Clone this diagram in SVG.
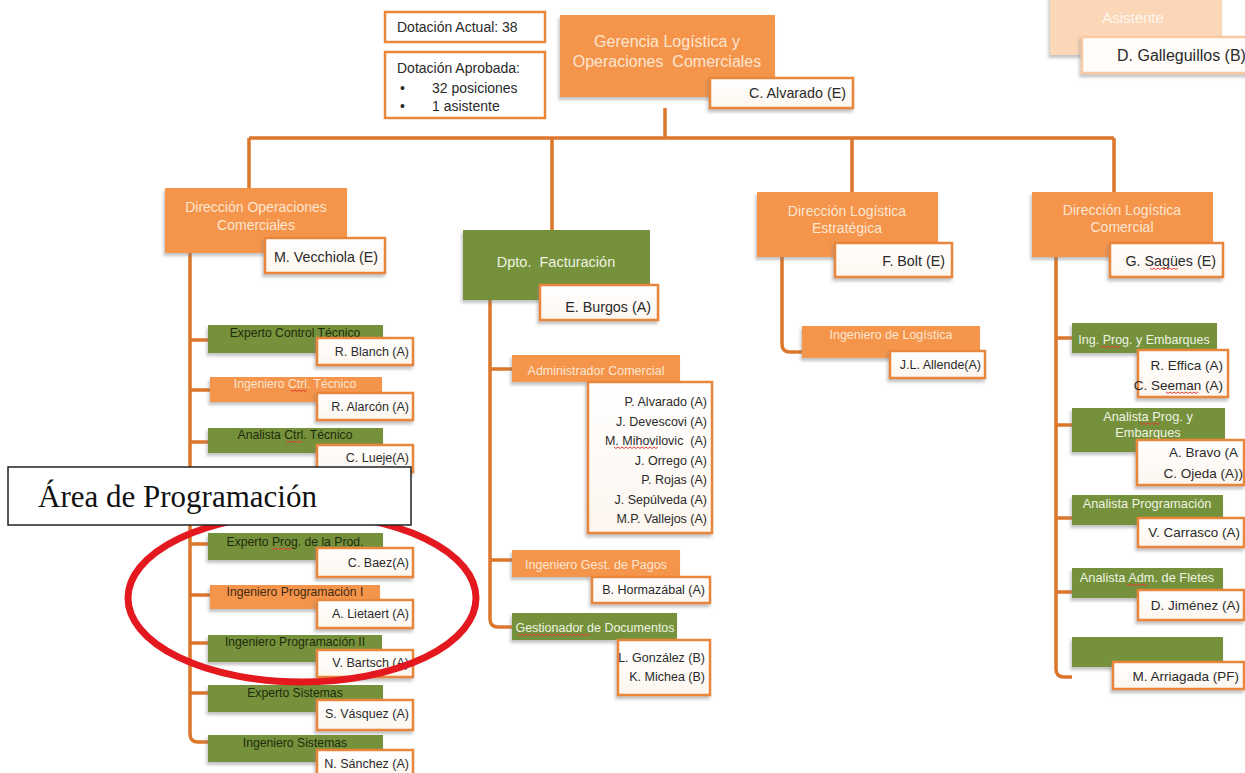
<svg xmlns="http://www.w3.org/2000/svg" width="1245" height="773" viewBox="0 0 1245 773">
  <defs>
    <filter id="sh" x="-10%" y="-15%" width="125%" height="145%">
      <feDropShadow dx="-1.5" dy="3" stdDeviation="1.5" flood-color="#7a7a7a" flood-opacity="0.45"/>
    </filter>
    <linearGradient id="nameFill" x1="0" y1="0" x2="0" y2="1">
      <stop offset="0" stop-color="#ffffff"/>
      <stop offset="1" stop-color="#fdf6ef"/>
    </linearGradient>
  </defs>
  <style>
    text { font-family: "Liberation Sans", Arial, sans-serif; }
    .or { fill: #f5944b; filter: url(#sh); }
    .gr { fill: #74913a; filter: url(#sh); }
    .nm { fill: url(#nameFill); stroke: #e8873a; stroke-width: 2.5; filter: url(#sh); }
    .info { fill: #ffffff; stroke: #e8873a; stroke-width: 2.5; }
    .ln { fill: none; stroke: #dc762a; stroke-width: 3.5; stroke-linejoin: round; }
    .tl { fill: #fde6d2; font-size: 14px; text-anchor: middle; }
    .rl { font-size: 12.2px; text-anchor: middle; }
    .lo { fill: #fde6d2; }
    .lg { fill: #eef3e2; }
    .dg { fill: #1f2c0b; }
    .do { fill: #3f2a12; }
    .n { fill: #2a2a2a; font-size: 12.5px; text-anchor: end; }
    .nb { fill: #2a2a2a; font-size: 14.3px; text-anchor: end; }
    .nr { fill: #2a2a2a; font-size: 13.5px; text-anchor: end; }
    .sp { fill: none; stroke: #e0403a; stroke-width: 1; }
  </style>

  <!-- connectors -->
  <g id="connectors" class="ln">
    <path d="M665 108 V138 M249 138 H1114 M249 138 V188 M552 138 V230 M852 138 V192 M1114 138 V192"/>
    <path d="M190 253 V734 Q190 742 198 742 H208 M190 340 H208 M190 390 H210 M190 442 H208 M190 544 H208 M190 595 H210 M190 643 H208 M190 693 H208"/>
    <path d="M490 300 V619 Q490 627 498 627 H512 M490 369 H512 M490 560 H512"/>
    <path d="M782 257 V344 Q782 352 790 352 H802"/>
    <path d="M1056 257 V669 Q1056 677 1064 677 H1072 M1056 338 H1072 M1056 425 H1072 M1056 518 H1072 M1056 592 H1072"/>
  </g>

  <!-- headcount notes -->
  <g id="dotacion-actual">
    <rect class="info" x="385" y="12" width="160" height="30"/>
    <text x="397" y="32" font-size="14" fill="#2a2a2a">Dotación Actual: 38</text>
  </g>
  <g id="dotacion-aprobada">
    <rect class="info" x="385" y="52" width="160" height="66"/>
    <text x="397" y="73" font-size="14" fill="#2a2a2a">Dotación Aprobada:</text>
    <text x="400" y="93" font-size="14" fill="#2a2a2a">•</text>
    <text x="432" y="93" font-size="14" fill="#2a2a2a">32 posiciones</text>
    <text x="400" y="111" font-size="14" fill="#2a2a2a">•</text>
    <text x="432" y="111" font-size="14" fill="#2a2a2a">1 asistente</text>
  </g>

  <!-- top management -->
  <g id="gerencia">
    <rect class="or" x="560" y="15" width="215" height="82"/>
    <text class="tl" x="667" y="47" style="font-size:16px">Gerencia Logística y</text>
    <text class="tl" x="667" y="67" style="font-size:16px;white-space:pre">Operaciones  Comerciales</text>
    <rect class="nm" x="710" y="78" width="143" height="30"/>
    <text class="nb" x="846" y="98">C. Alvarado (E)</text>
  </g>

  <g id="asistente">
    <rect x="1050" y="-10" width="172" height="65" fill="#fbd6b7" filter="url(#sh)"/>
    <text x="1133" y="23" font-size="15" fill="#fff6ee" text-anchor="middle">Asistente</text>
    <rect x="1082" y="37" width="172" height="36" fill="#fffcf9" stroke="#f7caa3" stroke-width="2.5" filter="url(#sh)"/>
    <text x="1117" y="61" font-size="16" fill="#2a2a2a">D. Galleguillos (B)</text>
  </g>

  <!-- directorates -->
  <g id="dir-operaciones-comerciales">
    <rect class="or" x="165" y="188" width="182" height="65"/>
    <text class="tl" x="256" y="212">Dirección Operaciones</text>
    <text class="tl" x="256" y="230">Comerciales</text>
    <rect class="nm" x="265" y="238" width="120" height="35"/>
    <text class="nb" x="378" y="262">M. Vecchiola (E)</text>
  </g>

  <g id="dpto-facturacion">
    <rect class="gr" x="463" y="230" width="187" height="70"/>
    <text x="556" y="267" font-size="14.5" text-anchor="middle" fill="#eef3e2" style="white-space:pre">Dpto.  Facturación</text>
    <rect class="nm" x="540" y="285" width="118" height="35"/>
    <text class="nb" x="651" y="312">E. Burgos (A)</text>
  </g>

  <g id="dir-logistica-estrategica">
    <rect class="or" x="757" y="192" width="181" height="65"/>
    <text class="tl" x="847" y="216">Dirección Logística</text>
    <text class="tl" x="847" y="233">Estratégica</text>
    <rect class="nm" x="835" y="243" width="117" height="34"/>
    <text class="nb" x="945" y="266">F. Bolt (E)</text>
  </g>

  <g id="dir-logistica-comercial">
    <rect class="or" x="1032" y="192" width="181" height="65"/>
    <text class="tl" x="1122" y="215">Dirección Logística</text>
    <text class="tl" x="1122" y="232">Comercial</text>
    <rect class="nm" x="1110" y="243" width="113" height="34"/>
    <text class="nb" x="1216" y="266">G. Sagües (E)</text>
  </g>

  <!-- Operaciones Comerciales positions -->
  <g id="experto-control-tecnico">
    <rect class="gr" x="208" y="325" width="175" height="28"/>
    <text class="rl dg" x="295" y="337">Experto Control Técnico</text>
    <rect class="nm" x="317" y="338" width="96" height="27"/>
    <text class="n" x="409" y="356">R. Blanch (A)</text>
  </g>
  <g id="ingeniero-ctrl-tecnico">
    <rect class="or" x="210" y="377" width="172" height="25"/>
    <text class="rl lo" x="295" y="388">Ingeniero Ctrl. Técnico</text>
    <rect class="nm" x="317" y="393" width="96" height="27"/>
    <text class="n" x="409" y="411">R. Alarcón (A)</text>
  </g>
  <g id="analista-ctrl-tecnico">
    <rect class="gr" x="208" y="428" width="175" height="25"/>
    <text class="rl dg" x="295" y="439">Analista Ctrl. Técnico</text>
    <rect class="nm" x="317" y="445" width="96" height="27"/>
    <text class="n" x="409" y="462">C. Lueje(A)</text>
  </g>
  <g id="experto-prog-prod">
    <rect class="gr" x="208" y="533" width="175" height="27"/>
    <text class="rl dg" x="295" y="546">Experto Prog. de la Prod.</text>
    <rect class="nm" x="317" y="548" width="96" height="29"/>
    <text class="n" x="409" y="567">C. Baez(A)</text>
  </g>
  <g id="ingeniero-programacion-1">
    <rect class="or" x="210" y="585" width="170" height="24"/>
    <text class="rl do" x="295" y="596">Ingeniero Programación I</text>
    <rect class="nm" x="317" y="600" width="96" height="28"/>
    <text class="n" x="409" y="618">A. Lietaert (A)</text>
  </g>
  <g id="ingeniero-programacion-2">
    <rect class="gr" x="208" y="635" width="174" height="27"/>
    <text class="rl dg" x="295" y="646">Ingeniero Programación II</text>
    <rect class="nm" x="317" y="650" width="96" height="27"/>
    <text class="n" x="409" y="667">V. Bartsch (A)</text>
  </g>
  <g id="experto-sistemas">
    <rect class="gr" x="208" y="685" width="175" height="27"/>
    <text class="rl dg" x="295" y="697">Experto Sistemas</text>
    <rect class="nm" x="317" y="700" width="96" height="30"/>
    <text class="n" x="409" y="718">S. Vásquez (A)</text>
  </g>
  <g id="ingeniero-sistemas">
    <rect class="gr" x="208" y="735" width="175" height="27"/>
    <text class="rl dg" x="295" y="747">Ingeniero Sistemas</text>
    <rect class="nm" x="317" y="750" width="96" height="30"/>
    <text class="n" x="409" y="768">N. Sánchez (A)</text>
  </g>

  <!-- Facturación positions -->
  <g id="administrador-comercial">
    <rect class="or" x="512" y="355" width="168" height="27"/>
    <text class="rl lo" x="596" y="375" style="font-size:12.5px">Administrador Comercial</text>
    <rect class="nm" x="588" y="382" width="124" height="151"/>
    <text class="n" x="707" y="406">P. Alvarado (A)</text>
    <text class="n" x="707" y="425.5">J. Devescovi (A)</text>
    <text class="n" x="707" y="445" style="white-space:pre">M. Mihovilovic  (A)</text>
    <text class="n" x="707" y="464.5">J. Orrego (A)</text>
    <text class="n" x="707" y="484">P. Rojas (A)</text>
    <text class="n" x="707" y="503.5">J. Sepúlveda (A)</text>
    <text class="n" x="707" y="523">M.P. Vallejos (A)</text>
  </g>
  <g id="ingeniero-gest-pagos">
    <rect class="or" x="512" y="550" width="168" height="27"/>
    <text class="rl lo" x="596" y="569" style="font-size:12.5px">Ingeniero Gest. de Pagos</text>
    <rect class="nm" x="592" y="577" width="118" height="26"/>
    <text class="n" x="705" y="594">B. Hormazábal (A)</text>
  </g>
  <g id="gestionador-documentos">
    <rect class="gr" x="512" y="613" width="165" height="27"/>
    <text class="rl lg" x="595" y="632" style="font-size:12.5px">Gestionador de Documentos</text>
    <rect class="nm" x="618" y="640" width="92" height="55"/>
    <text class="n" x="705" y="662">L. González (B)</text>
    <text class="n" x="705" y="681">K. Michea (B)</text>
  </g>

  <!-- Logística Estratégica positions -->
  <g id="ingeniero-logistica">
    <rect class="or" x="802" y="326" width="178" height="32"/>
    <text class="rl lo" x="891" y="339" style="font-size:12.5px">Ingeniero de Logística</text>
    <rect class="nm" x="890" y="351" width="95" height="27"/>
    <text class="n" x="981" y="369">J.L. Allende(A)</text>
  </g>

  <!-- Logística Comercial positions -->
  <g id="ing-prog-embarques">
    <rect class="gr" x="1072" y="323" width="145" height="30"/>
    <text class="rl lg" x="1144" y="344" style="font-size:12.5px">Ing. Prog. y Embarques</text>
    <rect class="nm" x="1138" y="350" width="90" height="47"/>
    <text class="nr" x="1223" y="370">R. Effica (A)</text>
    <text class="nr" x="1223" y="390">C. Seeman (A)</text>
  </g>
  <g id="analista-prog-embarques">
    <rect class="gr" x="1072" y="408" width="153" height="44"/>
    <text class="rl lg" x="1148" y="421" style="font-size:12.8px">Analista Prog. y</text>
    <text class="rl lg" x="1148" y="437" style="font-size:12.8px">Embarques</text>
    <rect class="nm" x="1137" y="440" width="107" height="45"/>
    <text class="nr" x="1238" y="457">A. Bravo (A</text>
    <text class="nr" x="1243" y="478">C. Ojeda (A))</text>
  </g>
  <g id="analista-programacion">
    <rect class="gr" x="1072" y="495" width="151" height="30"/>
    <text class="rl lg" x="1147" y="508" style="font-size:12.8px">Analista Programación</text>
    <rect class="nm" x="1138" y="518" width="106" height="29"/>
    <text class="nr" x="1240" y="537">V. Carrasco (A)</text>
  </g>
  <g id="analista-adm-fletes">
    <rect class="gr" x="1072" y="568" width="151" height="30"/>
    <text class="rl lg" x="1147" y="582" style="font-size:12.8px">Analista Adm. de Fletes</text>
    <rect class="nm" x="1138" y="590" width="106" height="30"/>
    <text class="nr" x="1240" y="610">D. Jiménez (A)</text>
  </g>
  <g id="arriagada">
    <rect class="gr" x="1072" y="637" width="151" height="30"/>
    <rect class="nm" x="1113" y="662" width="131" height="27"/>
    <text class="nr" x="1239" y="681">M. Arriagada (PF)</text>
  </g>

  <!-- spell-check squiggles -->
  <g id="squiggles" class="sp">
    <path d="M291 390 l2 1.5 l2 -1.5 l2 1.5 l2 -1.5 l2 1.5 l2 -1.5 l2 1.5 l2 -1.5"/>
    <path d="M286 441 l2 1.5 l2 -1.5 l2 1.5 l2 -1.5 l2 1.5 l2 -1.5 l2 1.5 l2 -1.5"/>
    <path d="M272 548 l2 1.5 l2 -1.5 l2 1.5 l2 -1.5 l2 1.5 l2 -1.5 l2 1.5 l2 -1.5 l2 1.5 l2 -1.5"/>
    <path d="M614 447 l2 1.5 l2 -1.5 l2 1.5 l2 -1.5 l2 1.5 l2 -1.5 l2 1.5 l2 -1.5 l2 1.5 l2 -1.5 l2 1.5 l2 -1.5 l2 1.5 l2 -1.5 l2 1.5 l2 -1.5 l2 1.5 l2 -1.5 l2 1.5 l2 -1.5 l2 1.5 l2 -1.5"/>
    <path d="M1150 268 l2 1.5 l2 -1.5 l2 1.5 l2 -1.5 l2 1.5 l2 -1.5 l2 1.5 l2 -1.5 l2 1.5 l2 -1.5 l2 1.5 l2 -1.5 l2 1.5 l2 -1.5"/>
    <path d="M1100 346 l2 1.5 l2 -1.5 l2 1.5 l2 -1.5 l2 1.5 l2 -1.5 l2 1.5 l2 -1.5 l2 1.5 l2 -1.5"/>
    <path d="M1166 392 l2 1.5 l2 -1.5 l2 1.5 l2 -1.5 l2 1.5 l2 -1.5 l2 1.5 l2 -1.5 l2 1.5 l2 -1.5 l2 1.5 l2 -1.5 l2 1.5 l2 -1.5 l2 1.5 l2 -1.5"/>
    <path d="M1140 423 l2 1.5 l2 -1.5 l2 1.5 l2 -1.5 l2 1.5 l2 -1.5 l2 1.5 l2 -1.5 l2 1.5 l2 -1.5"/>
    <path d="M1127 584 l2 1.5 l2 -1.5 l2 1.5 l2 -1.5 l2 1.5 l2 -1.5 l2 1.5 l2 -1.5 l2 1.5 l2 -1.5"/>
    <path d="M518 634 l2 1.5 l2 -1.5 l2 1.5 l2 -1.5 l2 1.5 l2 -1.5 l2 1.5 l2 -1.5 l2 1.5 l2 -1.5 l2 1.5 l2 -1.5 l2 1.5 l2 -1.5 l2 1.5 l2 -1.5 l2 1.5 l2 -1.5 l2 1.5 l2 -1.5 l2 1.5 l2 -1.5 l2 1.5 l2 -1.5 l2 1.5 l2 -1.5 l2 1.5 l2 -1.5 l2 1.5 l2 -1.5 l2 1.5 l2 -1.5 l2 1.5 l2 -1.5 l2 1.5 l2 -1.5"/>
  </g>

  <!-- highlight of the programming area -->
  <ellipse id="highlight" cx="302" cy="598" rx="174" ry="84" fill="none" stroke="#e3191f" stroke-width="7"/>

  <g id="area-programacion">
    <rect x="8" y="467" width="403" height="58" fill="#ffffff" stroke="#222222" stroke-width="1.5"/>
    <text x="38" y="507" font-size="31" fill="#111111" style="font-family:'Liberation Serif','Times New Roman',serif">Área de Programación</text>
  </g>
</svg>
